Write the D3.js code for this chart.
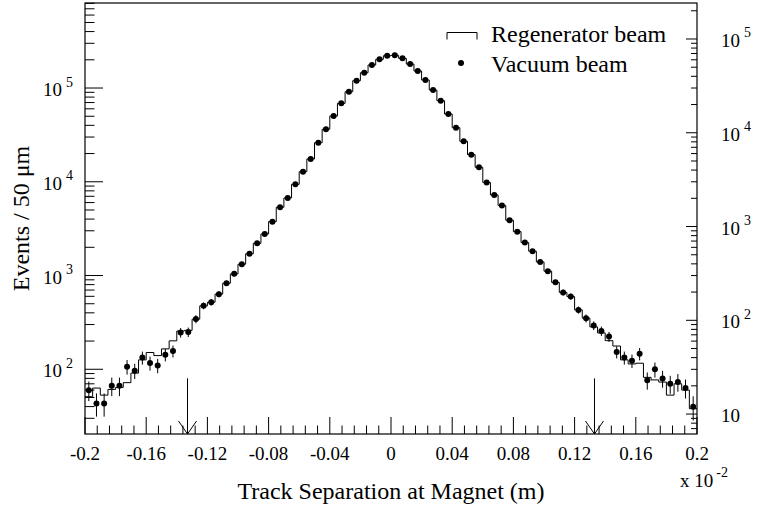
<!DOCTYPE html>
<html>
<head>
<meta charset="utf-8">
<script src="https://cdn.jsdelivr.net/npm/d3@7"></script>
<style>
  html, body { margin: 0; padding: 0; background: #fff; }
  svg text { font-family: "Liberation Serif", "Times New Roman", serif; fill: #000; }
</style>
</head>
<body>
<svg id="chart" width="762" height="508"></svg>
<script>
// Track separation histograms, 80 bins of 50 um between -0.2 and 0.2 (x 10^-2 m)
const binStart = -0.2;
const binWidth = 0.005;

// Regenerator beam: events per bin (left axis)
const regenerator = [
  51, 63, 53, 61, 64, 72, 91, 126, 151, 140,
  165, 201, 256, 260, 342, 474, 519, 634, 828, 1040,
  1322, 1706, 2208, 2775, 3757, 5349, 6721, 9399, 12820, 17510,
  26110, 36290, 50290, 68660, 91290, 119700, 145600, 175900, 202300, 220900,
  223100, 207300, 180200, 151800, 121700, 95200, 73200, 52800, 37730, 27030,
  19460, 14280, 9840, 7235, 5590, 3888, 2938, 2244, 1816, 1396,
  1112, 844, 660, 596, 430, 351, 283, 244, 202, 177,
  126, 114, 116, 82, 77, 73, 53, 70, 60, 38
];

// Vacuum beam: events per bin (right axis)
const vacuum = [
  18, 13, 13, 20, 20, 32, 29, 40, 35, 33,
  43, 47, 74, 75, 103, 143, 156, 190, 248, 313,
  397, 513, 664, 834, 1128, 1606, 2018, 2825, 3848, 5257,
  7839, 10900, 15100, 20610, 27420, 35920, 43730, 52830, 60770, 66370,
  66990, 62230, 54130, 45600, 36550, 28580, 21980, 15850, 11330, 8114,
  5845, 4288, 2953, 2173, 1679, 1167, 882, 674, 545, 419,
  334, 254, 198, 179, 129, 105, 88, 77, 67, 46,
  40, 37, 44, 23, 30, 24, 21, 22, 19, 12
];

const xMajorTicks = [-0.2, -0.16, -0.12, -0.08, -0.04, 0, 0.04, 0.08, 0.12, 0.16, 0.2];
const cutPositions = [-0.133, 0.133];
const cutArrowTop = 80;
const legendLabels = ["Regenerator beam", "Vacuum beam"];
const xTitle = "Track Separation at Magnet (m)";
const yTitle = "Events / 50 \u03bcm";

const svg = d3.select("#chart");
const frame = { left: 85, right: 697, top: 3, bottom: 434 };

const x = d3.scaleLinear().domain([-0.2, 0.2]).range([frame.left, frame.right]);
const yL = d3.scaleLog().domain([20.4, 8.07e5]).range([frame.bottom, frame.top]);
const yR = d3.scaleLog().domain([6.13, 2.42e5]).range([frame.bottom, frame.top]);

svg.append("defs").append("clipPath").attr("id", "plotArea")
  .append("rect")
  .attr("x", frame.left).attr("y", frame.top)
  .attr("width", frame.right - frame.left).attr("height", frame.bottom - frame.top);

const isDecade = v => Math.abs(Math.log10(v) - Math.round(Math.log10(v))) < 1e-9;

// ---- x axis ticks (inward) ----
const xMinor = [];
for (let i = 0; i < xMajorTicks.length - 1; i++) {
  const a = xMajorTicks[i], b = xMajorTicks[i + 1];
  for (let k = 1; k < 5; k++) xMinor.push(a + k * (b - a) / 5);
}
const axisG = svg.append("g").attr("stroke", "#000").attr("stroke-width", 1);
axisG.selectAll("line.xmaj").data(xMajorTicks).join("line")
  .attr("x1", d => x(d)).attr("x2", d => x(d))
  .attr("y1", frame.bottom).attr("y2", frame.bottom - 17);
axisG.selectAll("line.xmin").data(xMinor).join("line")
  .attr("x1", d => x(d)).attr("x2", d => x(d))
  .attr("y1", frame.bottom).attr("y2", frame.bottom - 8.5);

const fmtX = v => Math.abs(v) < 1e-9 ? "0" : String(+v.toFixed(2));
svg.append("g").selectAll("text").data(xMajorTicks).join("text")
  .attr("x", d => x(d)).attr("y", 460)
  .attr("text-anchor", "middle").attr("font-size", 19)
  .text(fmtX);

// ---- left axis (regenerator) ----
const leftTicks = yL.ticks().filter(v => v >= yL.domain()[0] && v <= yL.domain()[1]);
axisG.selectAll("line.yl").data(leftTicks).join("line")
  .attr("x1", frame.left).attr("x2", d => frame.left + (isDecade(d) ? 18 : 9.5))
  .attr("y1", d => yL(d)).attr("y2", d => yL(d));

const leftLabels = svg.append("g").selectAll("text").data(leftTicks.filter(isDecade)).join("text")
  .attr("x", 43).attr("y", d => yL(d) + 8).attr("font-size", 19);
leftLabels.append("tspan").text("10");
leftLabels.append("tspan").attr("dx", 4).attr("dy", -9.5).attr("font-size", 14)
  .text(d => Math.round(Math.log10(d)));

// ---- right axis (vacuum) ----
const rightTicks = yR.ticks().filter(v => v >= yR.domain()[0] && v <= yR.domain()[1]);
axisG.selectAll("line.yr").data(rightTicks).join("line")
  .attr("x1", frame.right).attr("x2", d => frame.right - (isDecade(d) ? 11 : 6))
  .attr("y1", d => yR(d)).attr("y2", d => yR(d));

const rightLabels = svg.append("g").selectAll("text").data(rightTicks.filter(isDecade)).join("text")
  .attr("x", 721).attr("y", d => yR(d) + 8).attr("font-size", 19);
rightLabels.append("tspan").text("10");
rightLabels.filter(d => Math.round(Math.log10(d)) > 1)
  .append("tspan").attr("dx", 4).attr("dy", -9.5).attr("font-size", 14)
  .text(d => Math.round(Math.log10(d)));

// ---- frame ----
svg.append("rect")
  .attr("x", frame.left).attr("y", frame.top)
  .attr("width", frame.right - frame.left).attr("height", frame.bottom - frame.top)
  .attr("fill", "none").attr("stroke", "#000").attr("stroke-width", 1.2);

// ---- histogram: regenerator beam ----
const plot = svg.append("g").attr("clip-path", "url(#plotArea)");
const histPts = regenerator.map((v, i) => [binStart + i * binWidth, v]);
histPts.push([binStart + regenerator.length * binWidth, regenerator[regenerator.length - 1]]);
plot.append("path")
  .attr("d", d3.line().x(d => x(d[0])).y(d => yL(d[1])).curve(d3.curveStepAfter)(histPts))
  .attr("fill", "none").attr("stroke", "#000").attr("stroke-width", 1);

// ---- points with statistical errors: vacuum beam ----
const pts = vacuum.map((v, i) => ({ xc: binStart + (i + 0.5) * binWidth, v, e: Math.sqrt(v) }));
plot.append("g").selectAll("line").data(pts).join("line")
  .attr("x1", d => x(d.xc)).attr("x2", d => x(d.xc))
  .attr("y1", d => yR(d.v + d.e)).attr("y2", d => yR(Math.max(d.v - d.e, 1)))
  .attr("stroke", "#000").attr("stroke-width", 1);
plot.append("g").selectAll("circle").data(pts).join("circle")
  .attr("cx", d => x(d.xc)).attr("cy", d => yR(d.v)).attr("r", 3)
  .attr("fill", "#000");

// ---- cut arrows ----
const arrows = svg.append("g").attr("stroke", "#000").attr("stroke-width", 1).attr("fill", "none");
cutPositions.forEach(c => {
  const cx = x(c);
  arrows.append("line").attr("x1", cx).attr("x2", cx)
    .attr("y1", yL(cutArrowTop)).attr("y2", frame.bottom);
  arrows.append("path")
    .attr("d", `M${cx - 9},${frame.bottom - 13}L${cx},${frame.bottom}L${cx + 9},${frame.bottom - 13}`);
});

// ---- legend ----
const lg = svg.append("g");
lg.append("path").attr("d", "M447,39.5V32.5H477V39.5")
  .attr("fill", "none").attr("stroke", "#000").attr("stroke-width", 1);
lg.append("text").attr("x", 491).attr("y", 42).attr("font-size", 24).text(legendLabels[0]);
lg.append("circle").attr("cx", 461).attr("cy", 63).attr("r", 3).attr("fill", "#000");
lg.append("text").attr("x", 491).attr("y", 71.5).attr("font-size", 24).text(legendLabels[1]);

// ---- axis titles ----
svg.append("text").attr("x", (frame.left + frame.right) / 2).attr("y", 499)
  .attr("text-anchor", "middle").attr("font-size", 24).text(xTitle);
svg.append("text")
  .attr("transform", `translate(29,${(frame.top + frame.bottom) / 2}) rotate(-90)`)
  .attr("text-anchor", "middle").attr("font-size", 24).text(yTitle);

const mult = svg.append("text").attr("x", 680).attr("y", 487).attr("font-size", 19);
mult.append("tspan").text("x 10");
mult.append("tspan").attr("dx", 3).attr("dy", -10).attr("font-size", 14).text("-2");
</script>
</body>
</html>
